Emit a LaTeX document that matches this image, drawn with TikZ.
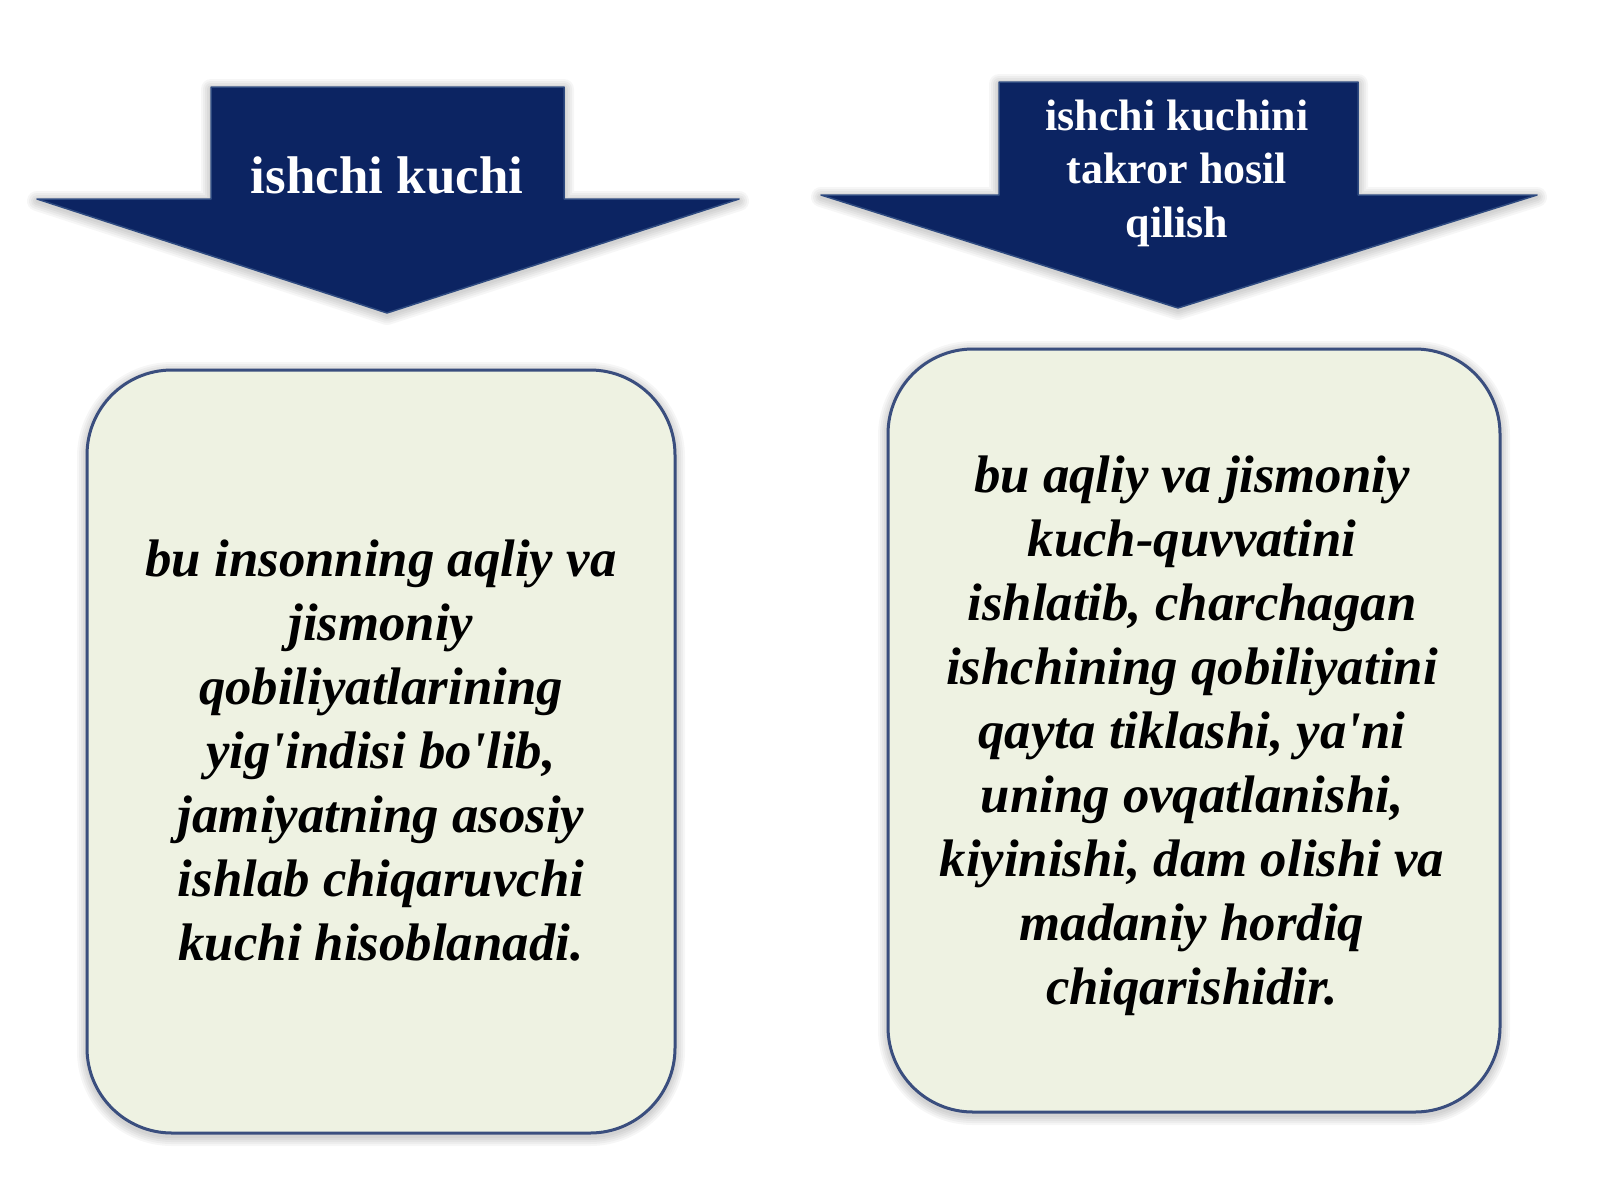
\documentclass[tikz,border=0pt]{standalone}
\usepackage{fontspec}
\setmainfont{Liberation Serif}
\definecolor{navy}{HTML}{0C2462}
\definecolor{navyedge}{HTML}{2E4A80}
\definecolor{boxfill}{HTML}{EEF2E2}
\definecolor{boxedge}{HTML}{3A4E7E}
\begin{document}
\begin{tikzpicture}[x=1pt,y=-1pt,
  arrowshape/.style={fill=navy, draw=navyedge, line width=1.5pt, line join=round},
  cardbox/.style={fill=boxfill, draw=boxedge, line width=3pt, rounded corners=85pt},
  glow/.style={draw=black, opacity=0.035, line join=round},
  headtext/.style={text=white, inner sep=0pt, align=center},
  bodytext/.style={text=black, font=\bfseries\itshape\fontsize{52.8}{64}\selectfont, inner sep=0pt, align=center}]
\fill[white] (0,0) rectangle (1600,1200);
\useasboundingbox (0,0) rectangle (1600,1200);

% soft shadows
\foreach \w in {4,8,12,16,20}{
  \draw[glow, line width=\w pt, rounded corners=85pt] (87,372) rectangle (675,1136);
  \draw[glow, line width=\w pt, rounded corners=85pt] (888,351) rectangle (1500,1115);
  \draw[glow, line width=\w pt] (211,89) -- (564,89) -- (564,201) -- (739,201) -- (387,315) -- (37,201) -- (211,201) -- cycle;
  \draw[glow, line width=\w pt] (999,84) -- (1358,84) -- (1358,197) -- (1537,197) -- (1178,310) -- (821,197) -- (999,197) -- cycle;
}

% arrows
\draw[arrowshape] (211,87) -- (564,87) -- (564,199) -- (739,199) -- (387,313) -- (37,199) -- (211,199) -- cycle;
\draw[arrowshape] (999,82) -- (1358,82) -- (1358,195) -- (1537,195) -- (1178,308) -- (821,195) -- (999,195) -- cycle;

% boxes
\draw[cardbox] (87,370) rectangle (675,1133);
\draw[cardbox] (888,349) rectangle (1500,1112);

% texts
\node[headtext, font=\bfseries\fontsize{53}{64}\selectfont, anchor=base] (h1) at (387,193) {ishchi kuchi};
\node[headtext, font=\bfseries\fontsize{44}{53.5}\selectfont] (h2) at (1177,173.4) {ishchi kuchini\\takror hosil\\qilish};

\node[bodytext] (b1) at (381,750.5) {bu insonning aqliy va\\jismoniy\\qobiliyatlarining\\yig\textquotesingle indisi bo\textquotesingle lib,\\jamiyatning asosiy\\ishlab chiqaruvchi\\kuchi hisoblanadi.};
\node[bodytext] (b2) at (1192,735.5) {bu aqliy va jismoniy\\kuch-quvvatini\\ishlatib, charchagan\\ishchining qobiliyatini\\qayta tiklashi, ya\textquotesingle ni\\uning ovqatlanishi,\\kiyinishi, dam olishi va\\madaniy hordiq\\chiqarishidir.};
\end{tikzpicture}
\end{document}
